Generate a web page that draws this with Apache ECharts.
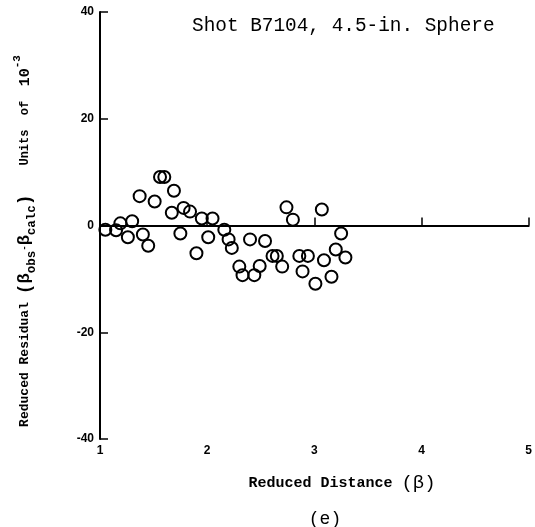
<!DOCTYPE html>
<html>
<head>
<meta charset="utf-8">
<script src="https://cdn.jsdelivr.net/npm/echarts@6/dist/echarts.min.js"></script>
<style>
html,body{margin:0;padding:0;background:#fff;}
#chart{width:535px;height:527px;}
</style>
</head>
<body>
<div id="chart"></div>
<script>
// Reduced distance (beta)
const distance = [1.05,1.15,1.19,1.30,1.26,1.40,1.45,1.37,1.51,1.56,1.60,1.69,1.67,1.75,1.78,1.84,1.95,2.05,1.90,2.01,2.16,2.20,2.23,2.30,2.33,2.40,2.44,2.49,2.54,2.61,2.65,2.70,2.74,2.80,2.86,2.94,2.89,3.01,3.07,3.09,3.16,3.20,3.25,3.29];
// Reduced residual, units of 10^-3
const residual = [-0.8,-0.9,0.4,0.8,-2.2,-1.7,-3.8,5.5,4.5,9.1,9.1,6.5,2.4,-1.5,3.3,2.6,1.3,1.3,-5.2,-2.2,-0.8,-2.6,-4.2,-7.7,-9.3,-2.6,-9.3,-7.6,-2.9,-5.7,-5.7,-7.7,3.4,1.1,-5.7,-5.7,-8.6,-10.9,3.0,-6.5,-9.6,-4.5,-1.5,-6.0];
const xTicks = [1,2,3,4,5];
const yTicks = [-40,-20,0,20,40];
const titleText = 'Shot B7104, 4.5-in. Sphere';

const points = distance.map((d, i) => [d, residual[i]]);

const chart = echarts.init(document.getElementById('chart'), null, {renderer: 'canvas'});
const mono = 'Liberation Mono';
chart.setOption({
  animation: false,
  backgroundColor: '#fff',
  title: {
    text: titleText,
    left: 192, top: 16, padding: 0,
    textStyle: {fontFamily: mono, fontSize: 19.4, fontWeight: 'normal', color: '#000'}
  },
  grid: {left: 100, right: 3, top: 12, bottom: 88},
  xAxis: {
    type: 'value', min: xTicks[0], max: xTicks[xTicks.length-1], interval: 1,
    axisLine: {lineStyle: {color: '#000', width: 2}},
    axisTick: {inside: true, length: 8, lineStyle: {color: '#000', width: 1.5}},
    axisLabel: {margin: 6, color: '#000', fontFamily: 'Liberation Sans', fontWeight: 'bold', fontSize: 12},
    splitLine: {show: false}
  },
  yAxis: {
    type: 'value', min: yTicks[0], max: yTicks[yTicks.length-1], interval: 20,
    axisLine: {lineStyle: {color: '#000', width: 2}},
    axisTick: {inside: true, length: 8, lineStyle: {color: '#000', width: 1.5}},
    axisLabel: {margin: 6, color: '#000', fontFamily: 'Liberation Sans', fontWeight: 'bold', fontSize: 12},
    splitLine: {show: false}
  },
  graphic: [
    {
      type: 'text', x: 25, y: 241, rotation: Math.PI / 2,
      style: {
        text: '{a|Reduced Residual }{p|(}{b|β}{s|obs}{m|-}{b|β}{s|calc}{p|)}{u|    Units  of  }{n|10}{t|-3}',
        align: 'center', verticalAlign: 'middle', fill: '#000',
        rich: {
          a: {fontFamily: mono, fontWeight: 'bold', fontSize: 13, lineHeight: 26, verticalAlign: 'middle'},
          p: {fontFamily: mono, fontWeight: 'bold', fontSize: 18, lineHeight: 26, verticalAlign: 'middle'},
          b: {fontFamily: mono, fontWeight: 'bold', fontSize: 17, lineHeight: 26, verticalAlign: 'middle'},
          m: {fontFamily: mono, fontWeight: 'bold', fontSize: 9, lineHeight: 26, verticalAlign: 'middle'},
          s: {fontFamily: mono, fontWeight: 'bold', fontSize: 12.5, lineHeight: 26, verticalAlign: 'bottom'},
          u: {fontFamily: mono, fontWeight: 'bold', fontSize: 12, lineHeight: 26, verticalAlign: 'middle'},
          n: {fontFamily: mono, fontWeight: 'bold', fontSize: 15, lineHeight: 26, verticalAlign: 'middle'},
          t: {fontFamily: mono, fontWeight: 'bold', fontSize: 11, lineHeight: 26, verticalAlign: 'top'}
        }
      }
    },
    {
      type: 'text', x: 342, y: 483,
      style: {
        text: '{a|Reduced Distance }{b|(β)}',
        align: 'center', verticalAlign: 'middle', fill: '#000',
        rich: {
          a: {fontFamily: mono, fontWeight: 'bold', fontSize: 15},
          b: {fontFamily: mono, fontWeight: 'normal', fontSize: 19}
        }
      }
    },
    {
      type: 'text', x: 325, y: 519,
      style: {text: '(e)', align: 'center', verticalAlign: 'middle', fill: '#000',
        font: 'normal 18px "Liberation Mono"'}
    }
  ],
  series: [{
    type: 'scatter',
    data: points,
    symbol: 'circle',
    symbolSize: 12,
    itemStyle: {color: 'rgba(0,0,0,0)', borderColor: '#000', borderWidth: 2, opacity: 1},
    markLine: {
      silent: true, symbol: 'none', animation: false,
      label: {show: false},
      lineStyle: {color: '#000', width: 1.5, type: 'solid'},
      data: [{yAxis: 0}]
    }
  }]
});
</script>
</body>
</html>
